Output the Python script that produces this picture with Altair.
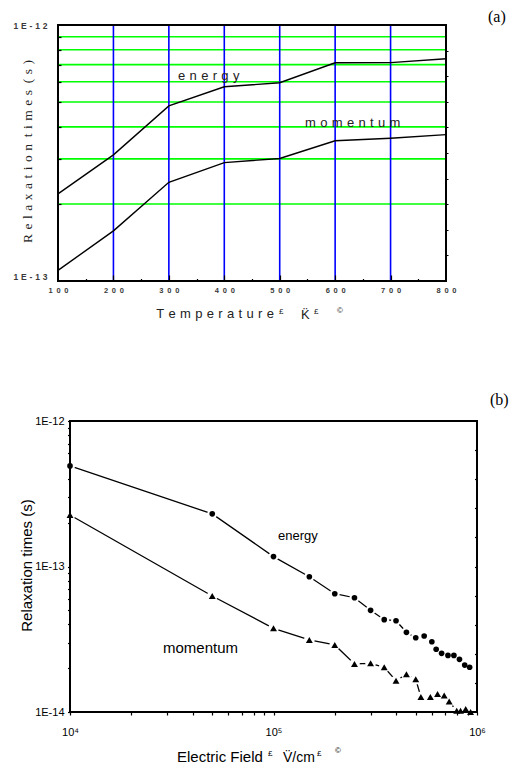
import altair as alt
import pandas as pd

W, H = 511, 770

# ---------------- panel (a): relaxation times vs temperature ----------------
temp_K = [100, 200, 300, 400, 500, 600, 700, 800]
tau_energy_a = [2.19e-13, 3.11e-13, 4.83e-13, 5.74e-13, 5.95e-13, 7.12e-13, 7.13e-13, 7.38e-13]
tau_momentum_a = [1.10e-13, 1.57e-13, 2.43e-13, 2.90e-13, 3.01e-13, 3.53e-13, 3.61e-13, 3.73e-13]
grid_a = [2e-13, 3e-13, 4e-13, 5e-13, 6e-13, 7e-13, 8e-13, 9e-13]
vlines_a = [200, 300, 400, 500, 600, 700]
xticks_a = [150, 200, 250, 300, 350, 400, 450, 500, 550, 600, 650, 700, 750]
rticks_a = [10 ** (-12 - 0.1 * k) for k in range(1, 10)]

# ---------------- panel (b): relaxation times vs electric field ----------------
field_energy = [1e4, 5e4, 1e5, 1.5e5, 2e5, 2.5e5, 3e5, 3.5e5, 4e5, 4.5e5,
                5e5, 5.5e5, 6e5, 6.3e5, 6.7e5, 7.2e5, 7.7e5, 8.2e5, 8.7e5, 9.2e5]
tau_energy_b = [4.91e-13, 2.30e-13, 1.17e-13, 8.5e-14, 6.5e-14, 6.1e-14, 5.0e-14, 4.31e-14, 4.24e-14, 3.53e-14,
                3.24e-14, 3.33e-14, 3.04e-14, 2.70e-14, 2.53e-14, 2.45e-14, 2.45e-14, 2.30e-14, 2.10e-14, 2.03e-14]
field_momentum = [1e4, 5e4, 1e5, 1.5e5, 2e5, 2.5e5, 3e5, 3.5e5, 4e5, 4.5e5,
                  5e5, 5.3e5, 5.9e5, 6.4e5, 6.9e5, 7.3e5, 7.95e5, 8.3e5, 8.8e5, 9.3e5]
tau_momentum_b = [2.26e-13, 6.27e-14, 3.76e-14, 3.13e-14, 2.89e-14, 2.14e-14, 2.16e-14, 2.03e-14, 1.64e-14, 1.82e-14,
                  1.68e-14, 1.27e-14, 1.27e-14, 1.33e-14, 1.30e-14, 1.18e-14, 1.02e-14, 1.02e-14, 1.05e-14, 1.00e-14]
xticks_b = [k * 10 ** d for d in (4, 5) for k in range(1, 10)] + [10 ** 6]
yticks_b = [k * 10.0 ** d for d in (-14, -13) for k in range(1, 10)] + [1e-12]
rticks_b = [10 ** (-12 - 0.2 * k) for k in range(1, 10)]

SANS = "Liberation Sans, Arial, sans-serif"
SERIF = "Liberation Serif, Times New Roman, serif"
SP3 = "\u2004"   # three-per-em space
SPN = "\u2002"   # en space


def spaced(s, sep):
    return sep.join(s)


# pixel ranges of the two plot frames on the page
xa = alt.Scale(type="linear", domain=[100, 800], range=[58, 446], nice=False, zero=False)
ya = alt.Scale(type="log", domain=[1e-13, 1e-12], range=[281, 25], nice=False)
xb = alt.Scale(type="log", domain=[1e4, 1e6], range=[70, 477], nice=False)
yb = alt.Scale(type="log", domain=[1e-14, 1e-12], range=[712, 421], nice=False)

# ---------- panel (a) ----------
df_a = pd.DataFrame({
    "T": temp_K * 2,
    "tau": tau_energy_a + tau_momentum_a,
    "series": ["energy"] * len(temp_K) + ["momentum"] * len(temp_K),
})

lab12 = spaced("1E-12", SP3)
lab13 = spaced("1E-13", SP3)

axis_a_bottom = alt.Axis(
    orient="bottom", offset=281 - H, values=temp_K, ticks=False, domain=False, grid=False,
    labelExpr="join(split(datum.label, ''), '" + SPN + "')",
    labelFont=SANS, labelFontSize=7.5, labelFontWeight="bold", labelColor="#3a3a3a",
    labelPadding=5, labelFlush=False, labelOverlap=False, title=None, zindex=1,
)
axis_a_left = alt.Axis(
    orient="left", offset=-58, values=[1e-13, 1e-12], ticks=False, domain=False, grid=False,
    labelExpr="datum.value > 5e-13 ? '" + lab12 + "' : '" + lab13 + "'",
    labelFont=SANS, labelFontSize=8.5, labelFontWeight="bold", labelColor="#3a3a3a",
    labelPadding=11, labelFlush=False, labelOverlap=False,
    labelBaseline={"condition": {"test": "datum.value < 5e-13", "value": "bottom"}, "value": "middle"},
    title=None, zindex=1,
)
axis_a_xticks = alt.Axis(
    orient="top", offset=-281, values=xticks_a, labels=False, domain=False, grid=False,
    tickColor="black", tickWidth=1.2,
    tickSize={"condition": {"test": "datum.value % 100 === 0", "value": 6}, "value": 2.5},
    title=None, zindex=1,
)
axis_a_yticks = alt.Axis(
    orient="right", offset=58 - W, values=grid_a, labels=False, domain=False, grid=False,
    tickColor="black", tickWidth=1.2, tickSize=3, title=None, zindex=1,
)
axis_a_right = alt.Axis(
    orient="right", offset=446 - W, values=rticks_a, labels=False, domain=False, grid=False,
    tickColor="black", tickWidth=1, tickSize=2, title=None, zindex=1,
)

grid_layer = alt.Chart(pd.DataFrame({"g": grid_a})).mark_rule(color="#00ff00", strokeWidth=1.6).encode(
    y=alt.Y("g:Q", scale=ya, axis=axis_a_yticks),
    x=alt.value(58), x2=alt.value(446),
)
vline_layer = alt.Chart(pd.DataFrame({"v": vlines_a})).mark_rule(color="#0000ff", strokeWidth=1.6).encode(
    x=alt.X("v:Q", scale=xa, axis=axis_a_xticks),
    y=alt.value(25), y2=alt.value(281),
)
lines_a = alt.Chart(df_a).mark_line(color="black", strokeWidth=1.4).encode(
    x=alt.X("T:Q", scale=xa, axis=axis_a_bottom),
    y=alt.Y("tau:Q", scale=ya, axis=axis_a_left),
    detail="series:N",
)
frame_a = alt.Chart(pd.DataFrame({"x0": [100], "x1": [800], "y0": [1e-13], "y1": [1e-12]})).mark_rect(
    fillOpacity=0, stroke="black", strokeWidth=2
).encode(
    x=alt.X("x0:Q", scale=xa, axis=None), x2="x1:Q",
    y=alt.Y("y0:Q", scale=ya, axis=axis_a_right), y2="y1:Q",
)
panel_a = alt.layer(grid_layer, vline_layer, lines_a, frame_a).resolve_axis(x="independent", y="independent")

# ---------- panel (b) ----------
df_b = pd.DataFrame({
    "E": field_energy + field_momentum,
    "tau": tau_energy_b + tau_momentum_b,
    "series": ["energy"] * len(field_energy) + ["momentum"] * len(field_momentum),
})

axis_b_bottom = alt.Axis(
    orient="bottom", offset=712 - H, values=xticks_b, domain=False, grid=False,
    tickColor="black", tickWidth=1.2, tickSize=3,
    labelExpr="datum.value == 10000 ? '10\u2074' : datum.value == 100000 ? '10\u2075' : datum.value == 1000000 ? '10\u2076' : ''",
    labelFont=SANS, labelFontSize=11, labelColor="black", labelPadding=11,
    labelFlush=False, labelOverlap=False, title=None, zindex=1,
)
axis_b_left = alt.Axis(
    orient="left", offset=-70, values=yticks_b, domain=False, grid=False,
    tickColor="black", tickWidth=1.2, tickSize=2.5,
    labelExpr="abs(log(datum.value) / LN10 - round(log(datum.value) / LN10)) < 0.001 ? '1E' + round(log(datum.value) / LN10) : ''",
    labelFont=SANS, labelFontSize=11, labelColor="black", labelPadding=3.5,
    labelFlush=False, labelOverlap=False, title=None, zindex=1,
)
axis_b_right = alt.Axis(
    orient="left", offset=-477, values=rticks_b, labels=False, domain=False, grid=False,
    tickColor="black", tickWidth=1.2, tickSize=2.5, title=None, zindex=1,
)

shape_scale = alt.Scale(domain=["energy", "momentum"], range=["circle", "triangle-up"])
size_scale = alt.Scale(domain=["energy", "momentum"], range=[32, 48])
halo_scale = alt.Scale(domain=["energy", "momentum"], range=[100, 115])

lines_b = alt.Chart(df_b).mark_line(color="black", strokeWidth=1.3).encode(
    x=alt.X("E:Q", scale=xb, axis=axis_b_bottom),
    y=alt.Y("tau:Q", scale=yb, axis=axis_b_left),
    detail="series:N",
)
# white halos leave a small gap in the line around every symbol
halo_b = alt.Chart(df_b).mark_point(filled=True, color="white", opacity=1, shape="circle").encode(
    x=alt.X("E:Q", scale=xb, axis=None),
    y=alt.Y("tau:Q", scale=yb, axis=None),
    size=alt.Size("series:N", scale=halo_scale, legend=None),
)
marks_b = alt.Chart(df_b).mark_point(filled=True, color="black", opacity=1).encode(
    x=alt.X("E:Q", scale=xb, axis=None),
    y=alt.Y("tau:Q", scale=yb, axis=None),
    shape=alt.Shape("series:N", scale=shape_scale, legend=None),
    size=alt.Size("series:N", scale=size_scale, legend=None),
)
frame_b = alt.Chart(pd.DataFrame({"x0": [1e4], "x1": [1e6], "y0": [1e-14], "y1": [1e-12]})).mark_rect(
    fillOpacity=0, stroke="black", strokeWidth=2
).encode(
    x=alt.X("x0:Q", scale=xb, axis=None), x2="x1:Q",
    y=alt.Y("y0:Q", scale=yb, axis=axis_b_right), y2="y1:Q",
)
panel_b = alt.layer(lines_b, halo_b, marks_b, frame_b).resolve_axis(x="independent", y="independent").resolve_scale(
    size="independent")


# ---------- free text ----------
def text(s, x, y, size, font=SANS, angle=0, align="left", color="black", weight="normal"):
    return alt.Chart(pd.DataFrame({"t": [s]})).mark_text(
        align=align, baseline="alphabetic", font=font, fontSize=size, angle=angle,
        color=color, fontWeight=weight,
    ).encode(text="t:N", x=alt.value(x), y=alt.value(y))


texts = [
    text("(a)", 488, 22, 16, font=SERIF),
    text("(b)", 490, 405, 16, font=SERIF),
    # panel (a)
    text(spaced("Relaxation", SP3) + SPN + spaced("times", SP3) + SPN + spaced("(s)", SP3),
         31.5, 151.5, 13.5, font=SERIF, angle=270, align="center", color="#222222"),
    text(spaced("Temperature", SP3), 274, 318, 13, align="right", color="#222222"),
    text("\u00a3", 279, 314, 8, color="#222222"),
    text("K\u0308", 301, 319, 13, color="#222222"),
    text("\u00a3", 314, 314, 8, color="#222222"),
    text("\u00a9", 337, 313, 8, color="#222222"),
    text(spaced("energy", SP3), 178, 80, 13, color="#222222"),
    text(spaced("momentum", SP3), 305, 127, 13, color="#222222"),
    # panel (b)
    text("Relaxation times (s)", 32, 565.5, 15, angle=270, align="center"),
    text("Electric Field", 177, 762, 15),
    text("\u00a3", 268, 756, 8),
    text("V\u0308/cm", 283, 762, 14),
    text("\u00a3", 317, 756, 8),
    text("\u00a9", 335, 753, 8),
    text("energy", 278, 540, 13),
    text("momentum", 163, 653, 15),
]

chart = alt.layer(panel_a, panel_b, *texts).resolve_scale(
    x="independent", y="independent", shape="independent", size="independent"
).resolve_axis(
    x="independent", y="independent"
).properties(
    width=W, height=H, padding=0, autosize="none", background="white"
).configure_view(stroke=None)

chart.save("out.html", embed_options={"renderer": "svg", "actions": False})
